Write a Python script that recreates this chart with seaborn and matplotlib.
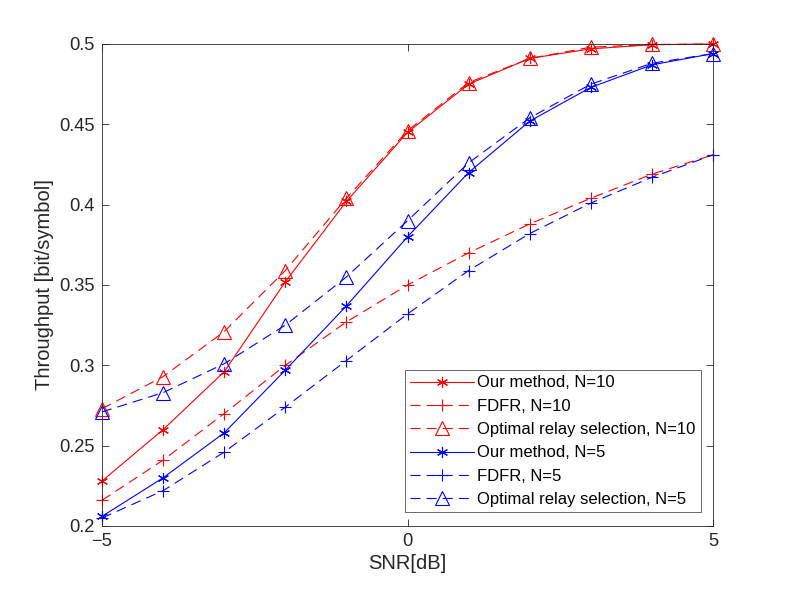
import numpy as np
import pandas as pd
import matplotlib
matplotlib.use('Agg')
import matplotlib.pyplot as plt
import seaborn as sns

# SNR points (dB)
snr = [-5, -4, -3, -2, -1, 0, 1, 2, 3, 4, 5]

# N = 10
ours_10 = [0.228, 0.260, 0.296, 0.352, 0.402, 0.445, 0.475, 0.491, 0.497, 0.4995, 0.500]
fdfr_10 = [0.216, 0.241, 0.270, 0.300, 0.327, 0.350, 0.370, 0.388, 0.404, 0.419, 0.431]
opt_10 = [0.273, 0.293, 0.321, 0.359, 0.404, 0.446, 0.476, 0.491, 0.498, 0.4997, 0.500]

# N = 5
ours_5 = [0.206, 0.230, 0.258, 0.297, 0.337, 0.380, 0.420, 0.452, 0.473, 0.487, 0.494]
fdfr_5 = [0.205, 0.222, 0.246, 0.274, 0.303, 0.332, 0.359, 0.382, 0.401, 0.417, 0.431]
opt_5 = [0.271, 0.283, 0.301, 0.325, 0.355, 0.390, 0.426, 0.454, 0.475, 0.488, 0.494]

labels = ['Our method, N=10', 'FDFR, N=10', 'Optimal relay selection, N=10',
          'Our method, N=5', 'FDFR, N=5', 'Optimal relay selection, N=5']

sns.set_style('ticks')
plt.rcParams['font.family'] = ['Liberation Sans', 'DejaVu Sans']

fig = plt.figure(figsize=(7.89, 5.92), dpi=100)
ax = fig.add_axes([0.1293, 0.1115, 0.7744, 0.8142])

star = (6, 2, 0)
dash = (0, (9, 5.5))
series = [
    (ours_10, 'red', '-', star, 8),
    (fdfr_10, 'red', dash, '+', 8.5),
    (opt_10, 'red', dash, '^', 10),
    (ours_5, 'blue', '-', star, 8),
    (fdfr_5, 'blue', dash, '+', 8.5),
    (opt_5, 'blue', dash, '^', 10),
]

for (vals, col, ls, mk, ms), lab in zip(series, labels):
    df = pd.DataFrame({'SNR': snr, 'Throughput': vals})
    sns.lineplot(data=df, x='SNR', y='Throughput', ax=ax, color=col,
                 linestyle=ls, marker=mk, markersize=ms, markerfacecolor='none',
                 markeredgecolor=col, markeredgewidth=0.8, linewidth=0.8,
                 label=lab, clip_on=False)

ax.set_xlim(-5, 5)
ax.set_ylim(0.2, 0.5)
ax.set_xticks([-5, 0, 5])
ax.set_yticks([0.2, 0.25, 0.3, 0.35, 0.4, 0.45, 0.5])
ax.set_yticklabels(['0.2', '0.25', '0.3', '0.35', '0.4', '0.45', '0.5'])
ax.set_xlabel('SNR[dB]', fontsize=14.5, color='#262626', labelpad=3)
ax.set_ylabel('Throughput [bit/symbol]', fontsize=14.5, color='#262626', labelpad=4)

for s in ax.spines.values():
    s.set_visible(True)
    s.set_color('#262626')
    s.set_linewidth(0.6)
ax.tick_params(direction='in', length=5, width=0.6, top=True, right=True,
               labelsize=13.2, colors='#262626', pad=5)

leg = ax.legend(loc='lower right', bbox_to_anchor=(0.980, 0.029), fontsize=12,
                handlelength=3.85, frameon=True, fancybox=False,
                borderpad=0.3, labelspacing=0.5, handletextpad=0.2,
                borderaxespad=0)
leg.get_frame().set_edgecolor('#262626')
leg.get_frame().set_linewidth(0.6)
for t in leg.get_texts():
    t.set_color('black')

fig.savefig('out.png', dpi=100)
